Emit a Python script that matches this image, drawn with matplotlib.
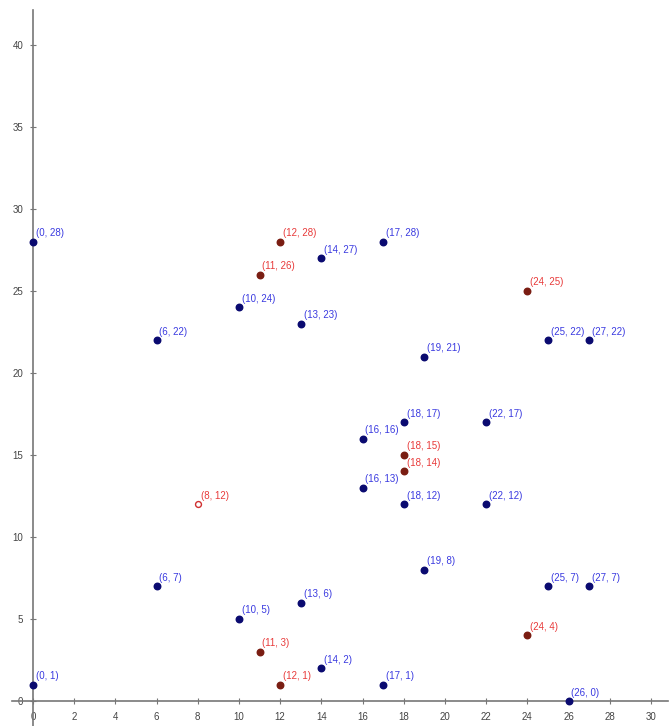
import matplotlib
matplotlib.use("Agg")
import matplotlib.pyplot as plt

plt.rcParams['font.family'] = ['Liberation Sans Narrow', 'Liberation Sans', 'DejaVu Sans']

# blue points (filled navy, blue labels)
blue_x = [0, 14, 17, 10, 6, 13, 25, 27, 19, 18, 22, 16, 16, 18, 22, 6, 19, 25, 27, 10, 13, 14, 0, 17, 26]
blue_y = [28, 27, 28, 24, 22, 23, 22, 22, 21, 17, 17, 16, 13, 12, 12, 7, 8, 7, 7, 5, 6, 2, 1, 1, 0]

# red points (filled dark red, red labels)
red_x = [12, 11, 24, 18, 18, 11, 24, 12]
red_y = [28, 26, 25, 15, 14, 3, 4, 1]

# hollow red point
open_x = [8]
open_y = [12]

x_ticks = list(range(0, 31, 2))
y_ticks = list(range(0, 41, 5))

fig = plt.figure(figsize=(6.72, 7.26), dpi=100)
ax = fig.add_axes([12 / 672, 0, 656 / 672, 716 / 726])
ax.set_xlim(-1.02, 30.83)
ax.set_ylim(-1.52, 42.13)

for s in ['top', 'right']:
    ax.spines[s].set_visible(False)
ax.spines['left'].set_position(('data', 0))
ax.spines['bottom'].set_position(('data', 0))
for s in ['left', 'bottom']:
    ax.spines[s].set_color('#777777')
    ax.spines[s].set_linewidth(1.2)

ax.set_xticks(x_ticks)
ax.set_yticks(y_ticks)
ax.tick_params(direction='inout', length=4, width=0.8, color='#777777',
               labelsize=7, labelcolor='#444444')
ax.tick_params(axis='x', pad=6)
ax.tick_params(axis='y', pad=5)

ax.scatter(blue_x, blue_y, s=22, color='#0a0a70', zorder=3, clip_on=False)
ax.scatter(red_x, red_y, s=22, color='#7a1d12', zorder=3, clip_on=False)
ax.scatter(open_x, open_y, s=18, facecolor='white', edgecolor='#d03030',
           linewidth=1, zorder=3, clip_on=False)

for x, y in zip(blue_x, blue_y):
    ax.annotate('({}, {})'.format(x, y), (x, y), xytext=(2, 4), textcoords='offset points',
                fontsize=7, color='#3a3ae0')
for x, y in zip(red_x + open_x, red_y + open_y):
    ax.annotate('({}, {})'.format(x, y), (x, y), xytext=(2, 4), textcoords='offset points',
                fontsize=7, color='#e83a3a')

fig.savefig('out.png', dpi=100)
